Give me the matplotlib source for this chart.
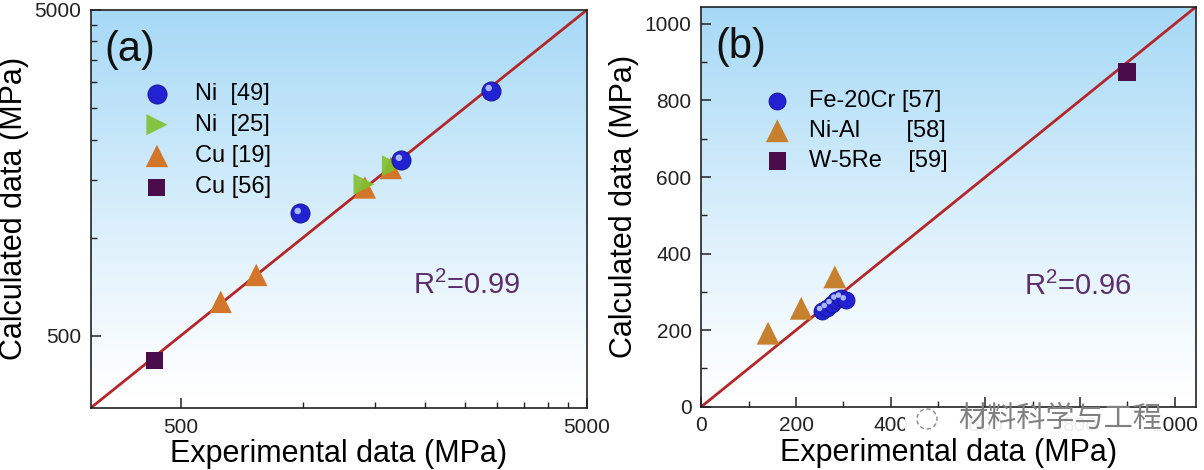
import matplotlib
matplotlib.use("Agg")
import matplotlib.pyplot as plt
import numpy as np
from matplotlib.transforms import offset_copy
from matplotlib.ticker import FixedLocator, NullFormatter, FixedFormatter
from matplotlib.patches import Rectangle, Ellipse

plt.rcParams['font.family'] = ['Liberation Sans', 'DejaVu Sans']
plt.rcParams['mathtext.fontset'] = 'custom'
plt.rcParams['mathtext.rm'] = 'Liberation Sans'
plt.rcParams['mathtext.default'] = 'regular'

# ---------------- data: panel (a) ----------------
a_ni49_x = [984, 1746, 2905]
a_ni49_y = [1186, 1727, 2827]
a_ni25_x = [1413, 1660]
a_ni25_y = [1458, 1660]
a_cu19_x = [627, 767, 1420, 1645]
a_cu19_y = [635, 768, 1425, 1635]
a_cu56_x = [430]
a_cu56_y = [420]
a_lim = (300, 5000)
a_major = [500, 5000]
a_minor = [1000, 1500, 2000, 2500, 3000, 3500, 4000, 4500]
a_labels = ["Ni  [49]", "Ni  [25]", "Cu [19]", "Cu [56]"]
a_r2 = "R$^2$=0.99"

# ---------------- data: panel (b) ----------------
b_fe_x = [255, 265, 275, 285, 295, 305]
b_fe_y = [250, 258, 268, 280, 285, 278]
b_nial_x = [141, 211, 282]
b_nial_y = [192, 257, 339]
b_w_x = [899]
b_w_y = [874]
b_lim = (0, 1045)
b_major = [0, 200, 400, 600, 800, 1000]
b_minor = [100, 300, 500, 700, 900]
b_labels = ["Fe-20Cr [57]", "Ni-Al       [58]", "W-5Re    [59]"]
b_r2 = "R$^2$=0.96"

c_blue = '#2222d2'
c_blue_edge = '#12128c'
c_hl = '#a9b8ff'
c_green = '#7fc02e'
c_orange = '#d4762a'
c_nial = '#c7812e'
c_square = '#4a0c4a'
c_line = '#b3262a'
c_r2 = '#5c2d6b'

fig = plt.figure(figsize=(12.04, 4.70), dpi=100)
rect_a = [0.0753, 0.132, 0.4122, 0.847]
rect_b = [0.5825, 0.1347, 0.4109, 0.851]

def background(rect):
    bg = fig.add_axes(rect, zorder=-1)
    n = 300
    t = np.linspace(0, 1, n)[:, None]  # 0 top, 1 bottom
    top = np.array([0.65, 0.85, 0.965])
    bot = np.array([1.0, 1.0, 1.0])
    frac = np.clip(1 - t / 0.97, 0, 1) ** 1.1
    img = bot[None, None, :] * (1 - frac[:, :, None]) + top[None, None, :] * frac[:, :, None]
    img = np.repeat(img, 2, axis=1)
    bg.imshow(img, aspect='auto', extent=[0, 1, 0, 1], interpolation='bilinear')
    bg.axis('off')

background(rect_a)
background(rect_b)

axa = fig.add_axes(rect_a)
axb = fig.add_axes(rect_b)
for ax in (axa, axb):
    ax.set_facecolor('none')
    for s in ax.spines.values():
        s.set_linewidth(1.2)
        s.set_color('#222222')
    ax.tick_params(which='both', direction='in', top=False, right=False,
                   labelsize=15, pad=7, colors='#222222')
    ax.tick_params(which='major', length=7, width=1.1)
    ax.tick_params(which='minor', length=4, width=1.0)

# ---------------- panel (a) ----------------
axa.set_xscale('log')
axa.set_yscale('log')
axa.set_xlim(*a_lim)
axa.set_ylim(*a_lim)
axa.plot(a_lim, a_lim, color=c_line, lw=2.0, zorder=2)
hl_a = offset_copy(axa.transData, fig=fig, x=-2.5, y=2.5, units='dots')
h1 = axa.scatter(a_ni49_x, a_ni49_y, s=190, marker='o', color=c_blue,
                 edgecolors=c_blue_edge, linewidths=0.6, zorder=4, label=a_labels[0])
axa.scatter(a_ni49_x, a_ni49_y, s=22, marker='o', color=c_hl, edgecolors='none',
            zorder=5, transform=hl_a)
h3 = axa.scatter(a_cu19_x, a_cu19_y, s=260, marker='^', color=c_orange,
                 edgecolors='none', zorder=3, label=a_labels[2])
h2 = axa.scatter(a_ni25_x, a_ni25_y, s=230, marker='>', color=c_green,
                 edgecolors='none', zorder=3.5, alpha=0.9, label=a_labels[1])
h4 = axa.scatter(a_cu56_x, a_cu56_y, s=150, marker='s', color=c_square,
                 edgecolors='none', zorder=4, label=a_labels[3])

axa.xaxis.set_major_locator(FixedLocator(a_major))
axa.yaxis.set_major_locator(FixedLocator(a_major))
axa.xaxis.set_major_formatter(FixedFormatter([str(v) for v in a_major]))
axa.yaxis.set_major_formatter(FixedFormatter([str(v) for v in a_major]))
axa.xaxis.set_minor_locator(FixedLocator(a_minor))
axa.yaxis.set_minor_locator(FixedLocator(a_minor))
axa.xaxis.set_minor_formatter(NullFormatter())
axa.yaxis.set_minor_formatter(NullFormatter())

axa.set_xlabel('Experimental data (MPa)', fontsize=22, labelpad=2)
axa.set_ylabel('Calculated data (MPa)', fontsize=22, labelpad=4)
axa.text(0.028, 0.90, '(a)', transform=axa.transAxes, fontsize=30,
         ha='left', va='center', color='#111111')
axa.text(0.757, 0.309, a_r2, transform=axa.transAxes, fontsize=21,
         ha='center', va='center', color=c_r2)
axa.legend(handles=[h1, h2, h3, h4], loc='upper left', bbox_to_anchor=(0.105, 0.817),
           frameon=False, fontsize=17, handlelength=1.2, handletextpad=1.0,
           labelspacing=0.39, borderpad=0, borderaxespad=0, scatterpoints=1)

# ---------------- panel (b) ----------------
axb.set_xlim(*b_lim)
axb.set_ylim(*b_lim)
axb.plot(b_lim, b_lim, color=c_line, lw=2.0, zorder=2)
hl_b = offset_copy(axb.transData, fig=fig, x=-2.5, y=2.5, units='dots')
g1 = axb.scatter(b_fe_x, b_fe_y, s=150, marker='o', color=c_blue,
                 edgecolors=c_blue_edge, linewidths=0.6, zorder=4, label=b_labels[0])
axb.scatter(b_fe_x, b_fe_y, s=16, marker='o', color=c_hl, edgecolors='none',
            zorder=5, transform=hl_b)
g2 = axb.scatter(b_nial_x, b_nial_y, s=270, marker='^', color=c_nial,
                 edgecolors='none', zorder=3, label=b_labels[1])
g3 = axb.scatter(b_w_x, b_w_y, s=160, marker='s', color=c_square,
                 edgecolors='none', zorder=4, label=b_labels[2])

axb.xaxis.set_major_locator(FixedLocator(b_major))
axb.yaxis.set_major_locator(FixedLocator(b_major))
axb.xaxis.set_minor_locator(FixedLocator(b_minor))
axb.yaxis.set_minor_locator(FixedLocator(b_minor))

axb.set_xlabel('Experimental data (MPa)', fontsize=22, labelpad=2)
axb.set_ylabel('Calculated data (MPa)', fontsize=22, labelpad=4)
axb.text(0.028, 0.90, '(b)', transform=axb.transAxes, fontsize=30,
         ha='left', va='center', color='#111111')
axb.text(0.761, 0.302, b_r2, transform=axb.transAxes, fontsize=21,
         ha='center', va='center', color=c_r2)
axb.legend(handles=[g1, g2, g3], loc='upper left', bbox_to_anchor=(0.125, 0.7925),
           frameon=False, fontsize=17, handlelength=1.2, handletextpad=0.75,
           labelspacing=0.35, borderpad=0, borderaxespad=0, scatterpoints=1)

# ---------------- watermark ----------------
fig.patches.append(Rectangle((905 / 1204, 1 - 433 / 470), (1163 - 905) / 1204, 22 / 470,
                             transform=fig.transFigure, facecolor='white',
                             edgecolor='none', alpha=0.92, zorder=5))
fig.patches.append(Ellipse((927 / 1204, 1 - 419 / 470), 20 / 1204, 20 / 470,
                           transform=fig.transFigure, fill=False,
                           edgecolor='#8a8a8a', lw=1.0, ls=(0, (3, 2)), zorder=6))
fig.text(958 / 1204, 1 - 419 / 470, '材料科学与工程', fontsize=21, color='#808080',
         family=['Noto Sans CJK SC', 'DejaVu Sans'], ha='left', va='center', zorder=6)

fig.savefig('out.png', dpi=100)
